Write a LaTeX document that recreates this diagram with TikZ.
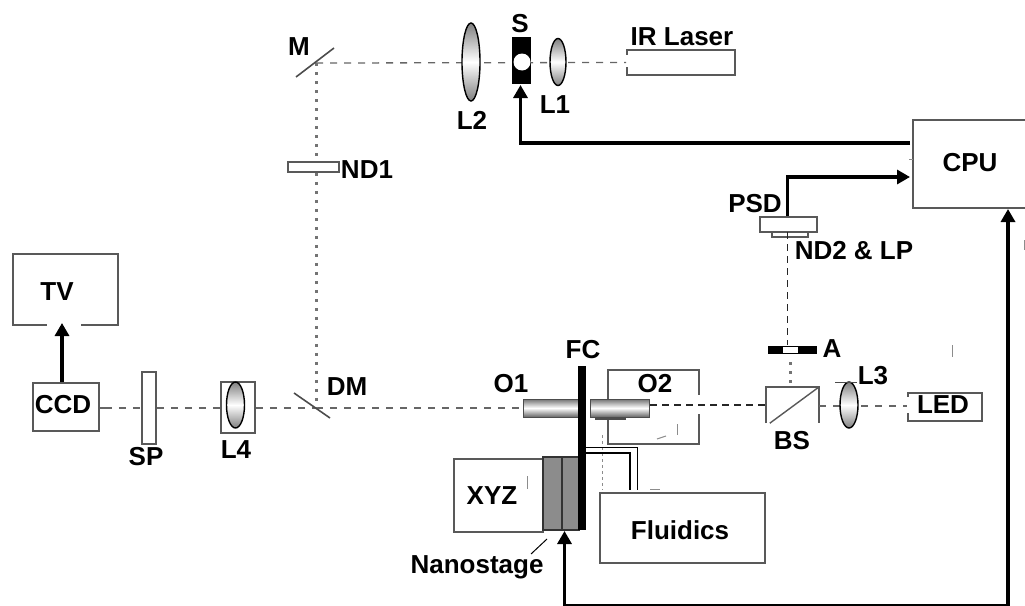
\documentclass[tikz,border=0pt]{standalone}
\usepackage{fontspec}
\setmainfont{Liberation Sans}
\usetikzlibrary{arrows.meta,calc,shapes.geometric}
\tikzset{
  lbl/.style={inner sep=0pt,font=\fontsize{26}{26}\selectfont\bfseries,text=black},
  box/.style={draw=black!65,line width=1.9pt,fill=none,inner sep=0pt,rectangle},
  anchorbox/.style={inner sep=0pt,rectangle},
  edgeline/.style={draw=black!65,line width=1.9pt},
  dashbeam/.style={draw=black!60,line width=1.3pt,dash pattern=on 7pt off 7pt},
  darkbeam/.style={draw=black!85,line width=1.3pt,dash pattern=on 7pt off 5pt},
  dotbeam/.style={draw=black!55,line width=3pt,dash pattern=on 3pt off 6pt},
  ctrl/.style={draw=black,line width=3.2pt,-{Triangle[length=13pt,width=14pt]}},
  ctrlb/.style={draw=black,line width=3.2pt,{Triangle[length=13pt,width=14pt]}-{Triangle[length=13pt,width=14pt]}},
  lens/.style={ellipse,draw=black,line width=1.4pt,inner sep=0pt,top color=black!50,bottom color=black!50,middle color=white},
  mirror/.style={draw=black!70,line width=1.6pt},
  tube/.style={draw=black,line width=1pt},
  barrel/.style={rectangle,inner sep=0pt,draw=black!70,line width=1pt,top color=black!55,bottom color=black!60,middle color=white},
  speck/.style={draw=black!45,line width=1pt}
}
\begin{document}
\begin{tikzpicture}[x=1pt,y=-1pt]
\useasboundingbox (0,0) rectangle (1025,605);
% boxes
\node[box,minimum width=105pt,minimum height=71pt] (tv) at (65.5,289.5) {};
\node[box,minimum width=66pt,minimum height=48pt] (ccd) at (66,407) {};
\node[box,minimum width=14pt,minimum height=72pt] (sp) at (149,408) {};
\node[box,minimum width=34pt,minimum height=51pt] (l4box) at (238,407.5) {};
\node[box,minimum width=108pt,minimum height=25pt] (ir) at (681,62.5) {};
\node[box,minimum width=51pt,minimum height=10pt] (nd1) at (313.5,167) {};
\node[anchorbox,minimum width=112pt,minimum height=88pt] (cpu) at (969,164) {};
\draw[edgeline] (cpu.north east) -- (cpu.north west) -- (cpu.south west) -- (cpu.south east);
\node[box,minimum width=57pt,minimum height=15pt] (psd) at (788.5,224.5) {};
\node[box,minimum width=36pt,minimum height=5pt] (nd2) at (790,234.5) {};
\node[anchorbox,minimum width=53pt,minimum height=36pt] (bs) at (792.5,405) {};
\draw[edgeline] (bs.south west) -- (bs.north west) -- (bs.north east) -- (bs.south east);
\node[box,minimum width=74pt,minimum height=28pt] (led) at (945,407) {};
\node[box,minimum width=91pt,minimum height=74pt] (o2box) at (653.5,407) {};
\node[box,minimum width=89pt,minimum height=73pt] (xyz) at (498.5,495.5) {};
\node[box,minimum width=165pt,minimum height=70pt] (fluid) at (682.5,528) {};
% gaps in box outlines
\fill[white] (47,322) rectangle (81,328);
\fill[white] (624,55) rectangle (630,67);
\fill[white] (696,395) rectangle (702,414);
\fill[white] (905,397) rectangle (911,413);
% faint specks
\draw[speck,dashed] (602,435) -- (602,490);
\draw[speck] (677,424) -- (677,435);
\draw[speck] (657,439) -- (666,436);
\draw[speck] (527,476) -- (527,489);
\draw[speck] (952,345) -- (952,357);
\draw[speck] (909,159) -- (913,159);
\draw[speck] (650,489) -- (660,489);
\draw[speck] (1024,240) -- (1024,250);
% beams
\coordinate (mc) at (316,63);
\coordinate (dmc) at (316,408);
\coordinate (ledy) at (0,406);
\draw[dashbeam] (105,408) -- (ccd.east|-dmc);
\draw[dashbeam] (ccd.east|-dmc) ++(5,0) -- (sp.west|-dmc);
\draw[dashbeam] (sp.east|-dmc) -- (l4box.west|-dmc);
\draw[dashbeam] (l4box.east|-dmc) -- (dmc);
\draw[dashbeam] (dmc) -- (522,408);
\draw[dashbeam] (mc) -- (ir.west);
\draw[dotbeam] (mc) -- (nd1.north-|mc);
\draw[dotbeam] (nd1.south-|mc) -- (dmc);
\draw[darkbeam] (650,405) -- (bs.west);
\draw[dashbeam] (bs.east|-ledy) -- (led.west|-ledy);
\draw[darkbeam] (787.5,232) -- (787.5,345);
% mirrors
\coordinate (m1) at (296,77); \coordinate (m2) at (334,48);
\coordinate (d1) at (294,393); \coordinate (d2) at (330,418);
\draw[mirror] (m1) -- (m2);
\draw[mirror] (d1) -- (d2);
% beam splitter diagonal
\draw[edgeline,line width=1.4pt] (bs.south west) ++(4,0) -- (bs.north east);
% lenses
\node[lens,minimum width=18pt,minimum height=46pt] (l4) at (235.5,405) {};
\node[lens,minimum width=18pt,minimum height=78pt] (l2) at (471,62) {};
\node[lens,minimum width=16pt,minimum height=47pt] (l1) at (558,62) {};
\node[lens,minimum width=18pt,minimum height=46pt] (l3) at (849,405) {};
\draw[black!70,line width=1pt] (835,382) -- (857,382);
% shutter
\node[rectangle,fill=black,minimum width=19pt,minimum height=47pt,inner sep=0pt] (s) at (521.5,60.5) {};
\node[circle,fill=white,minimum size=17pt,inner sep=0pt] (shole) at (522,62) {};
% aperture
\node[rectangle,fill=black,minimum width=49pt,minimum height=8pt,inner sep=0pt] (a) at (792.5,350) {};
\node[rectangle,fill=white,minimum width=15pt,minimum height=6pt,inner sep=0pt] (ahole) at (790.5,350) {};
\draw[dotbeam] (ahole.south|-a.south) ++(0,8) -- (bs.north-|ahole);
% objectives
\node[barrel,minimum width=56pt,minimum height=18pt] (o1) at (551,408) {};
\node[barrel,minimum width=59pt,minimum height=18pt] (o2) at (619.5,408) {};
\draw[black!70,line width=1.6pt] (595,419) -- (626,419);
% nanostage and flow cell
\node[rectangle,draw=black!80,line width=1.2pt,fill=black!45,minimum width=19pt,minimum height=73pt,inner sep=0pt] (ns1) at (552.5,493.5) {};
\node[rectangle,draw=black!80,line width=1.2pt,fill=black!45,minimum width=17pt,minimum height=73pt,inner sep=0pt] (ns2) at (570.5,493.5) {};
\node[rectangle,fill=black,minimum width=8pt,minimum height=164pt,inner sep=0pt] (fc) at (582,448) {};
% tubes
\draw[tube] (fc.east|-0,447) -| (637,490);
\draw[tube,line width=1.5pt] (fc.east|-0,453) -| (630,490);
% nanostage pointer
\coordinate (nsp) at (547,539);
\coordinate (nsq) at (531,554);
\draw[black,line width=1pt] (nsp) -- (nsq);
% control arrows
\draw[ctrl] (ccd.north-|62,0) -- (62,323);
\draw[ctrl] (910,143) -- (520.5,143) -- (520.5,85);
\draw[ctrl] (787.5,216) -- (787.5,177) -- (910,177);
\draw[ctrlb] (1008,209) -- (1008,605.5) -- (564.5,605.5) -- (564.5,531);
% labels
\node[lbl] (tTV) at (57,292) {TV};
\node[lbl] (tCCD) at (63,405) {CCD};
\node[lbl] (tSP) at (146,457) {SP};
\node[lbl] (tL4) at (236,450) {L4};
\node[lbl] (tDM) at (347,387) {DM};
\node[lbl] (tM) at (299,47) {M};
\node[lbl] (tS) at (520,24) {S};
\node[lbl] (tL2) at (472,120) {L2};
\node[lbl] (tL1) at (555,105) {L1};
\node[lbl] (tIR) at (682,37) {IR Laser};
\node[lbl] (tND1) at (367,170) {ND1};
\node[lbl] (tCPU) at (970,163) {CPU};
\node[lbl] (tPSD) at (755,204) {PSD};
\node[lbl] (tND2) at (854,251) {ND2 \& LP};
\node[lbl] (tA) at (832,349) {A};
\node[lbl] (tL3) at (873,376) {L3};
\node[lbl] (tBS) at (792,441) {BS};
\node[lbl] (tLED) at (943,405) {LED};
\node[lbl] (tO1) at (511,384) {O1};
\node[lbl] (tO2) at (655,384) {O2};
\node[lbl] (tFC) at (583,350) {FC};
\node[lbl] (tXYZ) at (492,496) {XYZ};
\node[lbl] (tFl) at (680,530) {Fluidics};
\node[lbl] (tNs) at (477,567) {Nanostage};
\end{tikzpicture}
\end{document}
